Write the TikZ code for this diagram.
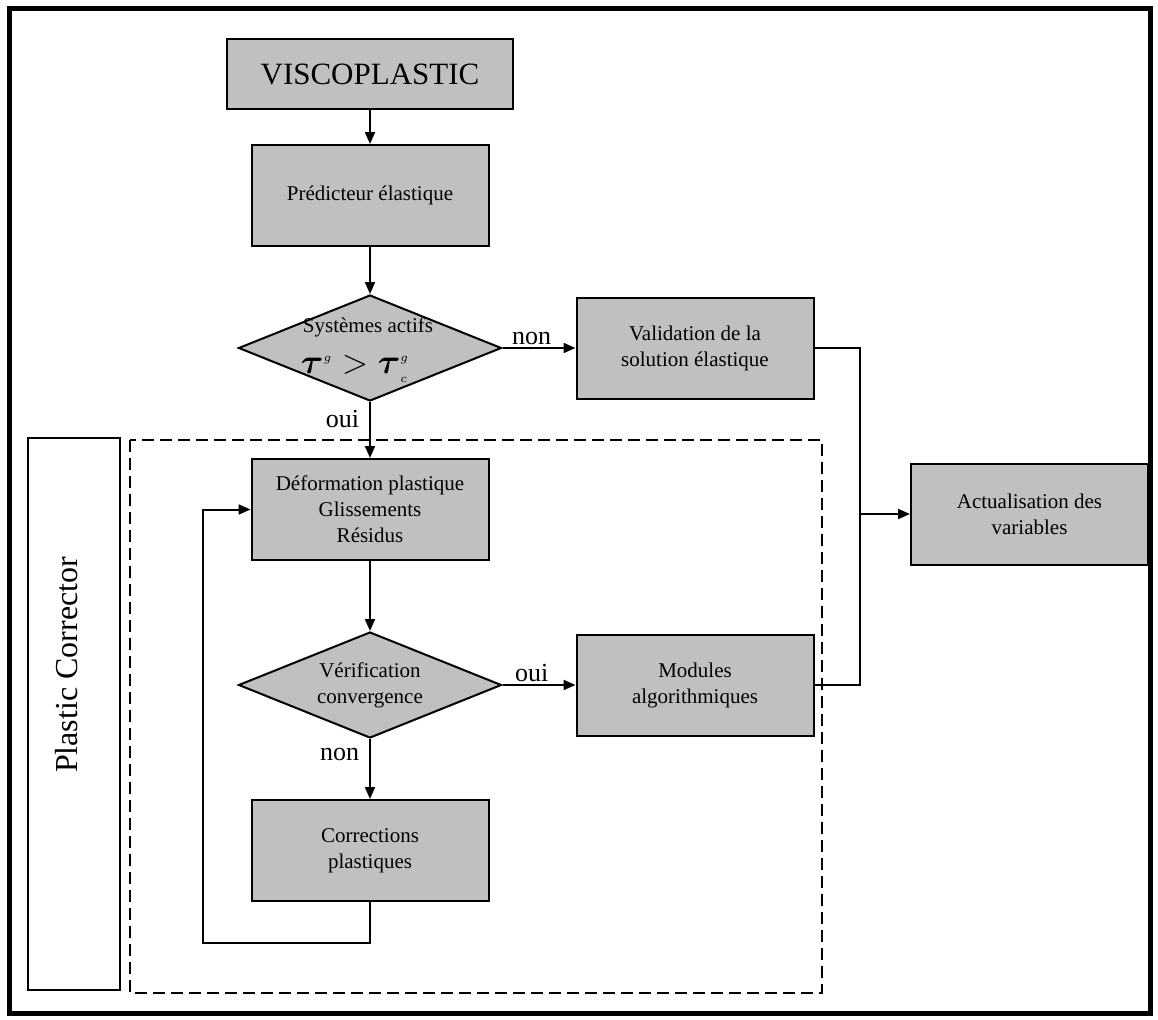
\documentclass[tikz,border=0pt]{standalone}
\usepackage{fontspec}
\setmainfont{Liberation Serif}
\usepackage{amsmath}
\usetikzlibrary{positioning, arrows.meta, shapes.geometric}
\definecolor{shade}{RGB}{192,192,192}
\newcommand{\idx}[1]{\mbox{\fontsize{6}{6}\selectfont$#1$}}

\begin{document}
\begin{tikzpicture}[
  x=0.5pt, y=-0.5pt,
  box/.style={draw=black, fill=shade, line width=1pt,
              minimum width=118.5pt, minimum height=50.5pt,
              font=\fontsize{10.5}{13}\selectfont, align=center, inner sep=2pt},
  titlebox/.style={box, minimum width=143pt, minimum height=35pt,
                   font=\fontsize{15.5}{18}\selectfont},
  decision/.style={diamond, draw=black, fill=shade, line width=1pt, aspect=2.5,
                   minimum width=131.5pt, minimum height=53pt, inner sep=-2pt,
                   font=\fontsize{10.5}{13}\selectfont, align=center},
  sidebox/.style={draw=black, line width=0.8pt, fill=white,
                  minimum width=46pt, minimum height=276pt},
  lbl/.style={font=\fontsize{13}{15}\selectfont, inner sep=1pt},
  arr/.style={-{Triangle[length=6pt,width=5pt]}, line width=1pt},
  link/.style={line width=1pt},
]
  \useasboundingbox (0,0) rectangle (1158,1019);
  \draw[line width=2.5pt] (9,8) rectangle (1150,1013);

  \node[titlebox] (visco) at (370,74) {VISCOPLASTIC};
  \node[box, below=17pt of visco] (pred) {Prédicteur élastique};
  \node[decision, below=23.5pt of pred] (actifs) {};
  \node[font=\fontsize{10.5}{13}\selectfont] (actifstxt) at (368,327) {Systèmes actifs};
  \node[font=\fontsize{19}{22}\selectfont, inner sep=0pt] (seuil) at (355,369)
    {$\boldsymbol{\tau}^{\idx{g}} > \boldsymbol{\tau}^{\idx{g}}_{\idx{c}}$};
  \node[box, right=36.5pt of actifs] (valid) {Validation de la\\solution élastique};
  \node[box, below=28pt of actifs] (deform) {Déformation plastique\\Glissements\\Résidus};
  \node[decision, below=35pt of deform] (verif) {Vérification\\convergence};
  \node[box, below=30pt of verif] (corr) {Corrections\\plastiques};
  \node[box, right=36.5pt of verif] (modules) {Modules\\algorithmiques};
  \node[box] (actual) at (1029.5,514) {Actualisation des\\variables};

  \node[sidebox] (corrector) at (74,714) {};
  \node[font=\fontsize{16}{19}\selectfont, rotate=90] (correctortxt) at (67,665) {Plastic Corrector};
  \draw[line width=0.75pt, dash pattern=on 6pt off 3pt] (130,440) rectangle (822,993);

  \coordinate (join) at (860,514);
  \coordinate (back) at (203,943);

  \draw[arr] (visco) -- (pred);
  \draw[arr] (pred) -- (actifs);
  \draw[arr] (actifs) -- node[lbl, above, pos=0.4] {non} (valid);
  \draw[arr] (actifs) -- node[lbl, left, xshift=-4pt, pos=0.3] {oui} (deform);
  \draw[arr] (deform) -- (verif);
  \draw[arr] (verif) -- node[lbl, above, pos=0.4] {oui} (modules);
  \draw[arr] (verif) -- node[lbl, left, xshift=-4pt, pos=0.25] {non} (corr);
  \draw[arr] (corr.south) |- (back) |- (deform.west);
  \draw[link] (valid.east) -| (join);
  \draw[link] (modules.east) -| (join);
  \draw[arr] (join) -- (actual);
\end{tikzpicture}
\end{document}
